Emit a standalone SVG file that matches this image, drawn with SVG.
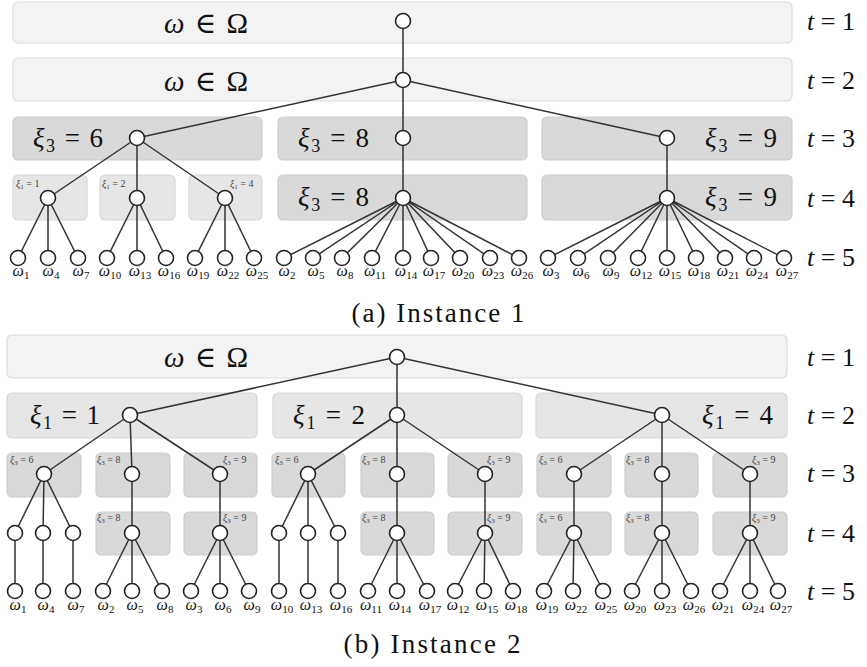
<svg xmlns="http://www.w3.org/2000/svg" width="867" height="667" viewBox="0 0 867 667">
<style>
.bg{fill:#ffffff}
.b1{fill:#f3f3f3;stroke:#dddddd;stroke-width:1.2}
.bl{fill:#e6e6e6;stroke:#d8d8d8;stroke-width:1.2}
.bd{fill:#d9d9d9;stroke:#cdcdcd;stroke-width:1.2}
.e{stroke:#333333;stroke-width:1.5;fill:none}
.n{fill:#ffffff;stroke:#222222;stroke-width:1.6}
text{font-family:"Liberation Serif","DejaVu Serif",serif;fill:#111111}
.big{font-size:29px}
.mid{font-size:27px}
.tl{font-size:26px}
.lf{font-size:16px;text-anchor:middle}
.sm{font-size:10px;fill:#444444}
.cap{font-size:27px;text-anchor:middle}
.i{font-style:italic}
</style>
<rect class="bg" x="0" y="0" width="867" height="667"/>

<!-- ===================== Instance 1 ===================== -->
<g id="a-bands">
  <rect class="b1" x="13" y="2" width="779" height="41" rx="5"/>
  <text class="big" x="164" y="33" textLength="84" lengthAdjust="spacing"><tspan class="i">ω</tspan> ∈ Ω</text>
  <rect class="b1" x="13" y="58" width="779" height="43" rx="5"/>
  <text class="big" x="164" y="91" textLength="84" lengthAdjust="spacing"><tspan class="i">ω</tspan> ∈ Ω</text>
  <rect class="bd" x="13" y="117" width="249" height="43" rx="5"/>
  <text class="mid" x="33" y="147" textLength="70" lengthAdjust="spacing"><tspan class="i">ξ</tspan><tspan font-size="18" dy="5">3</tspan><tspan dy="-5"> = 6</tspan></text>
  <rect class="bd" x="278" y="117" width="249" height="43" rx="5"/>
  <text class="mid" x="298" y="147" textLength="71" lengthAdjust="spacing"><tspan class="i">ξ</tspan><tspan font-size="18" dy="5">3</tspan><tspan dy="-5"> = 8</tspan></text>
  <rect class="bd" x="542" y="117" width="250" height="43" rx="5"/>
  <text class="mid" x="705" y="147" textLength="72" lengthAdjust="spacing"><tspan class="i">ξ</tspan><tspan font-size="18" dy="5">3</tspan><tspan dy="-5"> = 9</tspan></text>
  <rect class="bl" x="13" y="175" width="74" height="45" rx="5"/>
  <text class="sm" x="16" y="187"><tspan class="i">ξ</tspan><tspan font-size="7" dy="2">1</tspan><tspan dy="-2"> = 1</tspan></text>
  <rect class="bl" x="100" y="175" width="75" height="45" rx="5"/>
  <text class="sm" x="102" y="187"><tspan class="i">ξ</tspan><tspan font-size="7" dy="2">1</tspan><tspan dy="-2"> = 2</tspan></text>
  <rect class="bl" x="189" y="175" width="73" height="45" rx="5"/>
  <text class="sm" x="230" y="187"><tspan class="i">ξ</tspan><tspan font-size="7" dy="2">1</tspan><tspan dy="-2"> = 4</tspan></text>
  <rect class="bd" x="278" y="175" width="249" height="45" rx="5"/>
  <text class="mid" x="298" y="206" textLength="71" lengthAdjust="spacing"><tspan class="i">ξ</tspan><tspan font-size="18" dy="5">3</tspan><tspan dy="-5"> = 8</tspan></text>
  <rect class="bd" x="542" y="175" width="250" height="45" rx="5"/>
  <text class="mid" x="705" y="206" textLength="72" lengthAdjust="spacing"><tspan class="i">ξ</tspan><tspan font-size="18" dy="5">3</tspan><tspan dy="-5"> = 9</tspan></text>
</g>

<g id="a-stages">
  <text class="tl" x="807" y="30"><tspan class="i">t</tspan> = 1</text>
  <text class="tl" x="807" y="89"><tspan class="i">t</tspan> = 2</text>
  <text class="tl" x="807" y="147"><tspan class="i">t</tspan> = 3</text>
  <text class="tl" x="807" y="207"><tspan class="i">t</tspan> = 4</text>
  <text class="tl" x="807" y="266"><tspan class="i">t</tspan> = 5</text>
</g>

<g id="a-connectors">
  <path class="e" d="M403 21V80 M403 80L137 138 M403 80V138 M403 80L667 138
  M137 138L48 198 M137 138V198 M137 138L225 198 M403 138V198 M667 138V198
  M48 198L18 258 M48 198V258 M48 198L78 258
  M137 198L107 258 M137 198V258 M137 198L166 258
  M225 198L195 258 M225 198V258 M225 198L254 258
  M403 198L284 258 M403 198L313 258 M403 198L342 258 M403 198L372 258 M403 198V258 M403 198L431 258 M403 198L460 258 M403 198L490 258 M403 198L519 258
  M667 198L548 258 M667 198L578 258 M667 198L608 258 M667 198L638 258 M667 198V258 M667 198L696 258 M667 198L725 258 M667 198L754 258 M667 198L784 258"/>
</g>

<g id="a-n-root"><circle class="n" cx="403" cy="21" r="7.5"/></g>
<g id="a-n-t2"><circle class="n" cx="403" cy="80" r="7.5"/></g>
<g id="a-n-t3-6"><circle class="n" cx="137" cy="138" r="7.5"/></g>
<g id="a-n-t3-8"><circle class="n" cx="403" cy="138" r="7.5"/></g>
<g id="a-n-t3-9"><circle class="n" cx="667" cy="138" r="7.5"/></g>
<g id="a-n-t4-1"><circle class="n" cx="48" cy="198" r="7.5"/></g>
<g id="a-n-t4-2"><circle class="n" cx="137" cy="198" r="7.5"/></g>
<g id="a-n-t4-4"><circle class="n" cx="225" cy="198" r="7.5"/></g>
<g id="a-n-t4-8"><circle class="n" cx="403" cy="198" r="7.5"/></g>
<g id="a-n-t4-9"><circle class="n" cx="667" cy="198" r="7.5"/></g>

<g id="a-leaves">
  <circle class="n" cx="18" cy="258" r="7.5"/><text class="lf" x="21" y="276"><tspan class="i">ω</tspan><tspan font-size="11" dy="3">1</tspan></text>
  <circle class="n" cx="48" cy="258" r="7.5"/><text class="lf" x="51" y="276"><tspan class="i">ω</tspan><tspan font-size="11" dy="3">4</tspan></text>
  <circle class="n" cx="78" cy="258" r="7.5"/><text class="lf" x="81" y="276"><tspan class="i">ω</tspan><tspan font-size="11" dy="3">7</tspan></text>
  <circle class="n" cx="107" cy="258" r="7.5"/><text class="lf" x="110" y="276"><tspan class="i">ω</tspan><tspan font-size="11" dy="3">10</tspan></text>
  <circle class="n" cx="137" cy="258" r="7.5"/><text class="lf" x="140" y="276"><tspan class="i">ω</tspan><tspan font-size="11" dy="3">13</tspan></text>
  <circle class="n" cx="166" cy="258" r="7.5"/><text class="lf" x="169" y="276"><tspan class="i">ω</tspan><tspan font-size="11" dy="3">16</tspan></text>
  <circle class="n" cx="195" cy="258" r="7.5"/><text class="lf" x="198" y="276"><tspan class="i">ω</tspan><tspan font-size="11" dy="3">19</tspan></text>
  <circle class="n" cx="225" cy="258" r="7.5"/><text class="lf" x="228" y="276"><tspan class="i">ω</tspan><tspan font-size="11" dy="3">22</tspan></text>
  <circle class="n" cx="254" cy="258" r="7.5"/><text class="lf" x="257" y="276"><tspan class="i">ω</tspan><tspan font-size="11" dy="3">25</tspan></text>
  <circle class="n" cx="284" cy="258" r="7.5"/><text class="lf" x="287" y="276"><tspan class="i">ω</tspan><tspan font-size="11" dy="3">2</tspan></text>
  <circle class="n" cx="313" cy="258" r="7.5"/><text class="lf" x="316" y="276"><tspan class="i">ω</tspan><tspan font-size="11" dy="3">5</tspan></text>
  <circle class="n" cx="342" cy="258" r="7.5"/><text class="lf" x="345" y="276"><tspan class="i">ω</tspan><tspan font-size="11" dy="3">8</tspan></text>
  <circle class="n" cx="372" cy="258" r="7.5"/><text class="lf" x="375" y="276"><tspan class="i">ω</tspan><tspan font-size="11" dy="3">11</tspan></text>
  <circle class="n" cx="403" cy="258" r="7.5"/><text class="lf" x="406" y="276"><tspan class="i">ω</tspan><tspan font-size="11" dy="3">14</tspan></text>
  <circle class="n" cx="431" cy="258" r="7.5"/><text class="lf" x="434" y="276"><tspan class="i">ω</tspan><tspan font-size="11" dy="3">17</tspan></text>
  <circle class="n" cx="460" cy="258" r="7.5"/><text class="lf" x="463" y="276"><tspan class="i">ω</tspan><tspan font-size="11" dy="3">20</tspan></text>
  <circle class="n" cx="490" cy="258" r="7.5"/><text class="lf" x="493" y="276"><tspan class="i">ω</tspan><tspan font-size="11" dy="3">23</tspan></text>
  <circle class="n" cx="519" cy="258" r="7.5"/><text class="lf" x="522" y="276"><tspan class="i">ω</tspan><tspan font-size="11" dy="3">26</tspan></text>
  <circle class="n" cx="548" cy="258" r="7.5"/><text class="lf" x="551" y="276"><tspan class="i">ω</tspan><tspan font-size="11" dy="3">3</tspan></text>
  <circle class="n" cx="578" cy="258" r="7.5"/><text class="lf" x="581" y="276"><tspan class="i">ω</tspan><tspan font-size="11" dy="3">6</tspan></text>
  <circle class="n" cx="608" cy="258" r="7.5"/><text class="lf" x="611" y="276"><tspan class="i">ω</tspan><tspan font-size="11" dy="3">9</tspan></text>
  <circle class="n" cx="638" cy="258" r="7.5"/><text class="lf" x="641" y="276"><tspan class="i">ω</tspan><tspan font-size="11" dy="3">12</tspan></text>
  <circle class="n" cx="667" cy="258" r="7.5"/><text class="lf" x="670" y="276"><tspan class="i">ω</tspan><tspan font-size="11" dy="3">15</tspan></text>
  <circle class="n" cx="696" cy="258" r="7.5"/><text class="lf" x="699" y="276"><tspan class="i">ω</tspan><tspan font-size="11" dy="3">18</tspan></text>
  <circle class="n" cx="725" cy="258" r="7.5"/><text class="lf" x="728" y="276"><tspan class="i">ω</tspan><tspan font-size="11" dy="3">21</tspan></text>
  <circle class="n" cx="754" cy="258" r="7.5"/><text class="lf" x="757" y="276"><tspan class="i">ω</tspan><tspan font-size="11" dy="3">24</tspan></text>
  <circle class="n" cx="784" cy="258" r="7.5"/><text class="lf" x="787" y="276"><tspan class="i">ω</tspan><tspan font-size="11" dy="3">27</tspan></text>
</g>

<text class="cap" x="438" y="322" textLength="173" lengthAdjust="spacing">(a) Instance 1</text>

<!-- ===================== Instance 2 ===================== -->
<g id="b-bands">
  <rect class="b1" x="7" y="335" width="780" height="43" rx="5"/>
  <text class="big" x="164" y="367" textLength="84" lengthAdjust="spacing"><tspan class="i">ω</tspan> ∈ Ω</text>
  <rect class="bl" x="7" y="393" width="250" height="45" rx="5"/>
  <text class="mid" x="30" y="424" textLength="70" lengthAdjust="spacing"><tspan class="i">ξ</tspan><tspan font-size="18" dy="5">1</tspan><tspan dy="-5"> = 1</tspan></text>
  <rect class="bl" x="273" y="393" width="249" height="45" rx="5"/>
  <text class="mid" x="293" y="424" textLength="72" lengthAdjust="spacing"><tspan class="i">ξ</tspan><tspan font-size="18" dy="5">1</tspan><tspan dy="-5"> = 2</tspan></text>
  <rect class="bl" x="536" y="393" width="251" height="45" rx="5"/>
  <text class="mid" x="702" y="424" textLength="71" lengthAdjust="spacing"><tspan class="i">ξ</tspan><tspan font-size="18" dy="5">1</tspan><tspan dy="-5"> = 4</tspan></text>

  <rect class="bd" x="7" y="453" width="74" height="44" rx="5"/>
  <text class="sm" x="10" y="463"><tspan class="i">ξ</tspan><tspan font-size="7" dy="2">3</tspan><tspan dy="-2"> = 6</tspan></text>
  <rect class="bd" x="96" y="453" width="74" height="44" rx="5"/>
  <text class="sm" x="97" y="463"><tspan class="i">ξ</tspan><tspan font-size="7" dy="2">3</tspan><tspan dy="-2"> = 8</tspan></text>
  <rect class="bd" x="184" y="453" width="73" height="44" rx="5"/>
  <text class="sm" x="223" y="463"><tspan class="i">ξ</tspan><tspan font-size="7" dy="2">3</tspan><tspan dy="-2"> = 9</tspan></text>
  <rect class="bd" x="272" y="453" width="73" height="44" rx="5"/>
  <text class="sm" x="275" y="463"><tspan class="i">ξ</tspan><tspan font-size="7" dy="2">3</tspan><tspan dy="-2"> = 6</tspan></text>
  <rect class="bd" x="361" y="453" width="73" height="44" rx="5"/>
  <text class="sm" x="362" y="463"><tspan class="i">ξ</tspan><tspan font-size="7" dy="2">3</tspan><tspan dy="-2"> = 8</tspan></text>
  <rect class="bd" x="448" y="453" width="74" height="44" rx="5"/>
  <text class="sm" x="487" y="463"><tspan class="i">ξ</tspan><tspan font-size="7" dy="2">3</tspan><tspan dy="-2"> = 9</tspan></text>
  <rect class="bd" x="537" y="453" width="74" height="44" rx="5"/>
  <text class="sm" x="539" y="463"><tspan class="i">ξ</tspan><tspan font-size="7" dy="2">3</tspan><tspan dy="-2"> = 6</tspan></text>
  <rect class="bd" x="625" y="453" width="73" height="44" rx="5"/>
  <text class="sm" x="626" y="463"><tspan class="i">ξ</tspan><tspan font-size="7" dy="2">3</tspan><tspan dy="-2"> = 8</tspan></text>
  <rect class="bd" x="713" y="453" width="74" height="44" rx="5"/>
  <text class="sm" x="752" y="463"><tspan class="i">ξ</tspan><tspan font-size="7" dy="2">3</tspan><tspan dy="-2"> = 9</tspan></text>

  <rect class="bd" x="96" y="512" width="74" height="43" rx="5"/>
  <text class="sm" x="97" y="521"><tspan class="i">ξ</tspan><tspan font-size="7" dy="2">3</tspan><tspan dy="-2"> = 8</tspan></text>
  <rect class="bd" x="184" y="512" width="73" height="43" rx="5"/>
  <text class="sm" x="223" y="521"><tspan class="i">ξ</tspan><tspan font-size="7" dy="2">3</tspan><tspan dy="-2"> = 9</tspan></text>
  <rect class="bd" x="361" y="512" width="73" height="43" rx="5"/>
  <text class="sm" x="362" y="521"><tspan class="i">ξ</tspan><tspan font-size="7" dy="2">3</tspan><tspan dy="-2"> = 8</tspan></text>
  <rect class="bd" x="448" y="512" width="74" height="43" rx="5"/>
  <text class="sm" x="487" y="521"><tspan class="i">ξ</tspan><tspan font-size="7" dy="2">3</tspan><tspan dy="-2"> = 9</tspan></text>
  <rect class="bd" x="537" y="512" width="74" height="43" rx="5"/>
  <text class="sm" x="539" y="521"><tspan class="i">ξ</tspan><tspan font-size="7" dy="2">3</tspan><tspan dy="-2"> = 6</tspan></text>
  <rect class="bd" x="625" y="512" width="73" height="43" rx="5"/>
  <text class="sm" x="626" y="521"><tspan class="i">ξ</tspan><tspan font-size="7" dy="2">3</tspan><tspan dy="-2"> = 8</tspan></text>
  <rect class="bd" x="713" y="512" width="74" height="43" rx="5"/>
  <text class="sm" x="752" y="521"><tspan class="i">ξ</tspan><tspan font-size="7" dy="2">3</tspan><tspan dy="-2"> = 9</tspan></text>
</g>

<g id="b-stages">
  <text class="tl" x="807" y="366"><tspan class="i">t</tspan> = 1</text>
  <text class="tl" x="807" y="424"><tspan class="i">t</tspan> = 2</text>
  <text class="tl" x="807" y="482"><tspan class="i">t</tspan> = 3</text>
  <text class="tl" x="807" y="542"><tspan class="i">t</tspan> = 4</text>
  <text class="tl" x="807" y="600"><tspan class="i">t</tspan> = 5</text>
</g>

<g id="b-connectors">
  <path class="e" d="M397 357L130 415 M397 357V415 M397 357L662 415
  M130 415L44 474 M130 415L132 474 M130 415L220 474
  M397 415L308 474 M397 415V474 M397 415L485 474
  M662 415L574 474 M662 415V474 M662 415L750 474
  M44 474L15 533 M44 474L43 533 M44 474L73 533 M132 474V533 M220 474V533
  M308 474L279 533 M308 474V533 M308 474L338 533 M397 474V533 M485 474V533
  M574 474V533 M662 474V533 M750 474V533
  M15 533V591 M43 533V591 M73 533V591
  M132 533L103 591 M132 533V591 M132 533L162 591
  M220 533L191 591 M220 533V591 M220 533L249 591
  M279 533V591 M308 533V591 M338 533V591
  M397 533L368 591 M397 533V591 M397 533L427 591
  M485 533L455 591 M485 533L484 591 M485 533L513 591
  M574 533L544 591 M574 533L573 591 M574 533L603 591
  M662 533L632 591 M662 533V591 M662 533L691 591
  M750 533L720 591 M750 533V591 M750 533L778 591"/>
</g>

<g id="b-n-root"><circle class="n" cx="397" cy="357" r="7.5"/></g>
<g id="b-n-t2-1"><circle class="n" cx="130" cy="415" r="7.5"/></g>
<g id="b-n-t2-2"><circle class="n" cx="397" cy="415" r="7.5"/></g>
<g id="b-n-t2-4"><circle class="n" cx="662" cy="415" r="7.5"/></g>
<g id="b-n-t3">
  <circle class="n" cx="44" cy="474" r="7.5"/><circle class="n" cx="132" cy="474" r="7.5"/><circle class="n" cx="220" cy="474" r="7.5"/>
  <circle class="n" cx="308" cy="474" r="7.5"/><circle class="n" cx="397" cy="474" r="7.5"/><circle class="n" cx="485" cy="474" r="7.5"/>
  <circle class="n" cx="574" cy="474" r="7.5"/><circle class="n" cx="662" cy="474" r="7.5"/><circle class="n" cx="750" cy="474" r="7.5"/>
</g>
<g id="b-n-t4">
  <circle class="n" cx="15" cy="533" r="7.5"/><circle class="n" cx="43" cy="533" r="7.5"/><circle class="n" cx="73" cy="533" r="7.5"/>
  <circle class="n" cx="132" cy="533" r="7.5"/><circle class="n" cx="220" cy="533" r="7.5"/>
  <circle class="n" cx="279" cy="533" r="7.5"/><circle class="n" cx="308" cy="533" r="7.5"/><circle class="n" cx="338" cy="533" r="7.5"/>
  <circle class="n" cx="397" cy="533" r="7.5"/><circle class="n" cx="485" cy="533" r="7.5"/>
  <circle class="n" cx="574" cy="533" r="7.5"/><circle class="n" cx="662" cy="533" r="7.5"/><circle class="n" cx="750" cy="533" r="7.5"/>
</g>

<g id="b-leaves">
  <circle class="n" cx="15" cy="591" r="7.5"/><text class="lf" x="18" y="610"><tspan class="i">ω</tspan><tspan font-size="11" dy="3">1</tspan></text>
  <circle class="n" cx="43" cy="591" r="7.5"/><text class="lf" x="46" y="610"><tspan class="i">ω</tspan><tspan font-size="11" dy="3">4</tspan></text>
  <circle class="n" cx="73" cy="591" r="7.5"/><text class="lf" x="76" y="610"><tspan class="i">ω</tspan><tspan font-size="11" dy="3">7</tspan></text>
  <circle class="n" cx="103" cy="591" r="7.5"/><text class="lf" x="106" y="610"><tspan class="i">ω</tspan><tspan font-size="11" dy="3">2</tspan></text>
  <circle class="n" cx="132" cy="591" r="7.5"/><text class="lf" x="135" y="610"><tspan class="i">ω</tspan><tspan font-size="11" dy="3">5</tspan></text>
  <circle class="n" cx="162" cy="591" r="7.5"/><text class="lf" x="165" y="610"><tspan class="i">ω</tspan><tspan font-size="11" dy="3">8</tspan></text>
  <circle class="n" cx="191" cy="591" r="7.5"/><text class="lf" x="194" y="610"><tspan class="i">ω</tspan><tspan font-size="11" dy="3">3</tspan></text>
  <circle class="n" cx="220" cy="591" r="7.5"/><text class="lf" x="223" y="610"><tspan class="i">ω</tspan><tspan font-size="11" dy="3">6</tspan></text>
  <circle class="n" cx="249" cy="591" r="7.5"/><text class="lf" x="252" y="610"><tspan class="i">ω</tspan><tspan font-size="11" dy="3">9</tspan></text>
  <circle class="n" cx="279" cy="591" r="7.5"/><text class="lf" x="282" y="610"><tspan class="i">ω</tspan><tspan font-size="11" dy="3">10</tspan></text>
  <circle class="n" cx="308" cy="591" r="7.5"/><text class="lf" x="311" y="610"><tspan class="i">ω</tspan><tspan font-size="11" dy="3">13</tspan></text>
  <circle class="n" cx="338" cy="591" r="7.5"/><text class="lf" x="341" y="610"><tspan class="i">ω</tspan><tspan font-size="11" dy="3">16</tspan></text>
  <circle class="n" cx="368" cy="591" r="7.5"/><text class="lf" x="371" y="610"><tspan class="i">ω</tspan><tspan font-size="11" dy="3">11</tspan></text>
  <circle class="n" cx="397" cy="591" r="7.5"/><text class="lf" x="400" y="610"><tspan class="i">ω</tspan><tspan font-size="11" dy="3">14</tspan></text>
  <circle class="n" cx="427" cy="591" r="7.5"/><text class="lf" x="430" y="610"><tspan class="i">ω</tspan><tspan font-size="11" dy="3">17</tspan></text>
  <circle class="n" cx="455" cy="591" r="7.5"/><text class="lf" x="458" y="610"><tspan class="i">ω</tspan><tspan font-size="11" dy="3">12</tspan></text>
  <circle class="n" cx="484" cy="591" r="7.5"/><text class="lf" x="487" y="610"><tspan class="i">ω</tspan><tspan font-size="11" dy="3">15</tspan></text>
  <circle class="n" cx="513" cy="591" r="7.5"/><text class="lf" x="516" y="610"><tspan class="i">ω</tspan><tspan font-size="11" dy="3">18</tspan></text>
  <circle class="n" cx="544" cy="591" r="7.5"/><text class="lf" x="547" y="610"><tspan class="i">ω</tspan><tspan font-size="11" dy="3">19</tspan></text>
  <circle class="n" cx="573" cy="591" r="7.5"/><text class="lf" x="576" y="610"><tspan class="i">ω</tspan><tspan font-size="11" dy="3">22</tspan></text>
  <circle class="n" cx="603" cy="591" r="7.5"/><text class="lf" x="606" y="610"><tspan class="i">ω</tspan><tspan font-size="11" dy="3">25</tspan></text>
  <circle class="n" cx="632" cy="591" r="7.5"/><text class="lf" x="635" y="610"><tspan class="i">ω</tspan><tspan font-size="11" dy="3">20</tspan></text>
  <circle class="n" cx="662" cy="591" r="7.5"/><text class="lf" x="665" y="610"><tspan class="i">ω</tspan><tspan font-size="11" dy="3">23</tspan></text>
  <circle class="n" cx="691" cy="591" r="7.5"/><text class="lf" x="694" y="610"><tspan class="i">ω</tspan><tspan font-size="11" dy="3">26</tspan></text>
  <circle class="n" cx="720" cy="591" r="7.5"/><text class="lf" x="723" y="610"><tspan class="i">ω</tspan><tspan font-size="11" dy="3">21</tspan></text>
  <circle class="n" cx="750" cy="591" r="7.5"/><text class="lf" x="753" y="610"><tspan class="i">ω</tspan><tspan font-size="11" dy="3">24</tspan></text>
  <circle class="n" cx="778" cy="591" r="7.5"/><text class="lf" x="781" y="610"><tspan class="i">ω</tspan><tspan font-size="11" dy="3">27</tspan></text>
</g>

<text class="cap" x="432" y="653" textLength="177" lengthAdjust="spacing">(b) Instance 2</text>
</svg>
